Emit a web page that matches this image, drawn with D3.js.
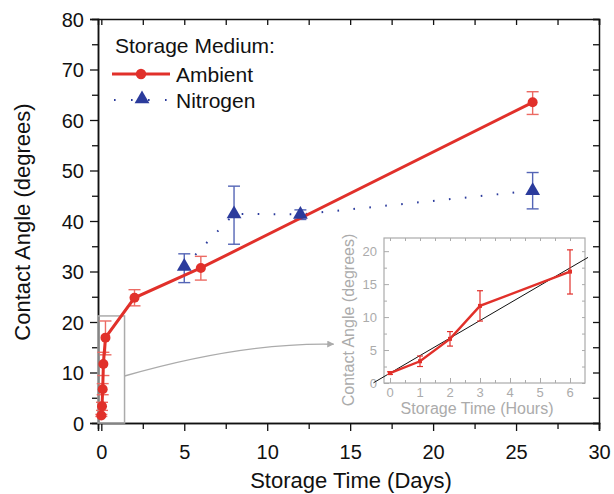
<!DOCTYPE html>
<html>
<head>
<meta charset="utf-8">
<script src="https://cdnjs.cloudflare.com/ajax/libs/d3/7.8.5/d3.min.js"></script>
<style>
  body { margin: 0; background: #fff; }
  text { font-family: "Liberation Sans", Arial, Helvetica, sans-serif; }
</style>
</head>
<body>
<svg id="chart" width="614" height="494"></svg>
<script>
// Ambient storage: time in days, mean contact angle, error bar low / high
const ambientDays  = [0, 1 / 24, 2 / 24, 3 / 24, 6 / 24, 2, 6, 26];
const ambientAngle = [1.5, 3.3, 6.7, 11.7, 16.9, 24.8, 30.7, 63.5];
const ambientLow   = [1.3, 2.5, 5.6, 9.4, 13.5, 23.2, 28.3, 61.1];
const ambientHigh  = [1.7, 4.1, 7.8, 14.0, 20.2, 26.4, 33.0, 65.6];

// Nitrogen storage
const nitrogenDays  = [5, 8, 12, 26];
const nitrogenAngle = [31.0, 41.4, 41.3, 46.0];
const nitrogenLow   = [27.8, 35.4, 40.3, 42.4];
const nitrogenHigh  = [33.5, 46.9, 42.2, 49.6];

// First six hours of ambient storage (inset)
const hoursTime  = [0, 1, 2, 3, 6];
const hoursAngle = [1.5, 3.3, 6.7, 11.7, 16.9];
const hoursLow   = [1.3, 2.5, 5.6, 9.4, 13.5];
const hoursHigh  = [1.7, 4.1, 7.8, 14.0, 20.2];

// Linear fit over the first hours
const fitIntercept = 1.5;
const fitSlope = 2.66;
const fitSpan = [-0.55, 6.6];

// Tick labels
const xTickValues = [0, 5, 10, 15, 20, 25, 30];
const yTickValues = [0, 10, 20, 30, 40, 50, 60, 70, 80];
const insetXTickValues = [0, 1, 2, 3, 4, 5, 6];
const insetYTickValues = [0, 5, 10, 15, 20];

// Zoom region (days, degrees) and the arrow pointing to the inset
const zoomBox = { x0: -0.2, x1: 1.4, y0: 0, y1: 21.2 };
const arrowFrom = [1.4, 9.3];
const arrowVia = [8.5, 16.0];
const arrowTo = [14.0, 15.6];

const RED = "#e1302a", RED_ERR = "#ec6a63";
const BLUE = "#2b3b9c", BLUE_ERR = "#5465b6";
const GREY = "#ababab";

const svg = d3.select("#chart");

const x = d3.scaleLinear().domain([-0.2, 30]).range([98, 599]);
const y = d3.scaleLinear().domain([0, 80]).range([423, 19]);

const ambient = ambientDays.map((d, i) => ({ x: d, y: ambientAngle[i], lo: ambientLow[i], hi: ambientHigh[i] }));
const nitrogen = nitrogenDays.map((d, i) => ({ x: d, y: nitrogenAngle[i], lo: nitrogenLow[i], hi: nitrogenHigh[i] }));
const hours = hoursTime.map((d, i) => ({ x: d, y: hoursAngle[i], lo: hoursLow[i], hi: hoursHigh[i] }));

// ---- axes of the main panel ----
function styleAxis(g) {
  g.select(".domain").attr("stroke", "#111").attr("stroke-width", 1.5);
  g.selectAll(".tick line").attr("stroke", "#111").attr("stroke-width", 1.3);
  g.selectAll(".tick text").attr("fill", "#111").style("font-size", "20px");
}
const half = (vals, step) => d3.range(vals[0] + step / 2, vals[vals.length - 1], step);

// minor ticks
svg.append("g").attr("transform", "translate(0,423)")
  .call(d3.axisBottom(x).tickValues(half(xTickValues, 5)).tickSize(6).tickFormat(""))
  .call(styleAxis);
svg.append("g").attr("transform", "translate(98,0)")
  .call(d3.axisLeft(y).tickValues(half(yTickValues, 10)).tickSize(6).tickFormat(""))
  .call(styleAxis);

svg.append("g").attr("transform", "translate(0,423)")
  .call(d3.axisBottom(x).tickValues(xTickValues).tickSize(8).tickPadding(14).tickFormat(d3.format("d")))
  .call(styleAxis);
svg.append("g").attr("transform", "translate(98,0)")
  .call(d3.axisLeft(y).tickValues(yTickValues).tickSize(8).tickPadding(6).tickFormat(d3.format("d")))
  .call(styleAxis)
  .selectAll(".tick text").attr("dy", "0.36em");

// top and right frame with inward ticks
svg.append("g").attr("transform", "translate(0,19)")
  .call(d3.axisBottom(x).tickValues(d3.range(0, 30.01, 2.5)).tickSize(6).tickFormat(""))
  .call(styleAxis);
svg.append("g").attr("transform", "translate(599,0)")
  .call(d3.axisLeft(y).tickValues(d3.range(0, 80.01, 5)).tickSize(6).tickFormat(""))
  .call(styleAxis);

// axis titles
svg.append("text").attr("x", 351).attr("y", 488).attr("text-anchor", "middle")
  .style("font-size", "22px").attr("fill", "#111").text("Storage Time (Days)");
svg.append("text").attr("transform", "translate(30,222) rotate(-90)").attr("text-anchor", "middle")
  .style("font-size", "22px").attr("fill", "#111").text("Contact Angle (degrees)");

// ---- zoom box and arrow ----
svg.append("rect")
  .attr("x", x(zoomBox.x0)).attr("y", y(zoomBox.y1))
  .attr("width", x(zoomBox.x1) - x(zoomBox.x0)).attr("height", y(zoomBox.y0) - y(zoomBox.y1))
  .attr("fill", "none").attr("stroke", GREY).attr("stroke-width", 1.5);

svg.append("defs").append("marker")
  .attr("id", "arrowhead").attr("viewBox", "0 0 10 10").attr("refX", 9).attr("refY", 5)
  .attr("markerWidth", 7).attr("markerHeight", 7).attr("markerUnits", "userSpaceOnUse").attr("orient", "auto")
  .append("path").attr("d", "M0,0 L10,5 L0,10 Z").attr("fill", GREY);

const ap = d3.path();
ap.moveTo(x(arrowFrom[0]), y(arrowFrom[1]));
ap.quadraticCurveTo(x(arrowVia[0]), y(arrowVia[1]), x(arrowTo[0]), y(arrowTo[1]));
svg.append("path").attr("d", ap.toString()).attr("fill", "none")
  .attr("stroke", GREY).attr("stroke-width", 1.4).attr("marker-end", "url(#arrowhead)");

// ---- main series ----
function errorBars(g, data, sx, sy, color, cap, width) {
  const eb = g.append("g").attr("stroke", color).attr("stroke-width", width).attr("fill", "none");
  data.forEach(d => {
    eb.append("line").attr("x1", sx(d.x)).attr("x2", sx(d.x)).attr("y1", sy(d.lo)).attr("y2", sy(d.hi));
    eb.append("line").attr("x1", sx(d.x) - cap).attr("x2", sx(d.x) + cap).attr("y1", sy(d.lo)).attr("y2", sy(d.lo));
    eb.append("line").attr("x1", sx(d.x) - cap).attr("x2", sx(d.x) + cap).attr("y1", sy(d.hi)).attr("y2", sy(d.hi));
  });
}

errorBars(svg, nitrogen, x, y, BLUE_ERR, 6, 1.4);
errorBars(svg, ambient, x, y, RED_ERR, 6, 1.4);

const line = d3.line().x(d => x(d.x)).y(d => y(d.y));

svg.append("path").datum(nitrogen).attr("d", line).attr("fill", "none")
  .attr("stroke", BLUE).attr("stroke-width", 2).attr("stroke-dasharray", "1.6,14.4");
svg.append("path").datum(ambient).attr("d", line).attr("fill", "none")
  .attr("stroke", RED).attr("stroke-width", 3);

const tri = d3.symbol().type(d3.symbolTriangle).size(95);
svg.append("g").selectAll("path").data(nitrogen).join("path")
  .attr("transform", d => `translate(${x(d.x)},${y(d.y)})`).attr("d", tri).attr("fill", BLUE);
svg.append("g").selectAll("circle").data(ambient).join("circle")
  .attr("cx", d => x(d.x)).attr("cy", d => y(d.y)).attr("r", 5).attr("fill", RED);

// ---- legend ----
const lg = svg.append("g");
lg.append("text").attr("x", 115).attr("y", 53).style("font-size", "21px").attr("fill", "#111").text("Storage Medium:");
lg.append("line").attr("x1", 112).attr("x2", 170).attr("y1", 74).attr("y2", 74).attr("stroke", RED).attr("stroke-width", 3);
lg.append("circle").attr("cx", 141).attr("cy", 74).attr("r", 5.2).attr("fill", RED);
lg.append("text").attr("x", 176).attr("y", 74).attr("dy", "0.36em").style("font-size", "21px").attr("fill", "#111").text("Ambient");
lg.append("line").attr("x1", 114).attr("x2", 170).attr("y1", 100).attr("y2", 100)
  .attr("stroke", BLUE).attr("stroke-width", 2).attr("stroke-dasharray", "1.6,15.4");
lg.append("path").attr("transform", "translate(142,99)").attr("d", tri).attr("fill", BLUE);
lg.append("text").attr("x", 176).attr("y", 100).attr("dy", "0.36em").style("font-size", "21px").attr("fill", "#111").text("Nitrogen");

// ---- inset: first hours ----
const ix = d3.scaleLinear().domain([-0.2, 6.5]).range([384, 585]);
const iy = d3.scaleLinear().domain([0, 22]).range([383, 238]);
const inset = svg.append("g");

inset.append("rect").attr("x", 384).attr("y", 238).attr("width", 201).attr("height", 145)
  .attr("fill", "#fff").attr("stroke", GREY).attr("stroke-width", 1.2);

function insetTicks(g) {
  g.select(".domain").remove();
  g.selectAll(".tick line").attr("stroke", GREY).attr("stroke-width", 1);
  g.selectAll(".tick text").attr("fill", GREY).style("font-size", "13px");
}
// inward ticks on all four sides
inset.append("g").attr("transform", "translate(0,383)")
  .call(d3.axisTop(ix).tickValues(d3.range(0.5, 6.5, 1)).tickSize(3).tickFormat("")).call(insetTicks);
inset.append("g").attr("transform", "translate(0,238)")
  .call(d3.axisBottom(ix).tickValues(d3.range(0, 6.01, 0.5)).tickSize(3).tickFormat("")).call(insetTicks);
inset.append("g").attr("transform", "translate(384,0)")
  .call(d3.axisRight(iy).tickValues(d3.range(2.5, 22, 5)).tickSize(3).tickFormat("")).call(insetTicks);
inset.append("g").attr("transform", "translate(585,0)")
  .call(d3.axisLeft(iy).tickValues(d3.range(0, 22, 2.5)).tickSize(3).tickFormat("")).call(insetTicks);
inset.append("g").attr("transform", "translate(0,383)")
  .call(d3.axisTop(ix).tickValues(insetXTickValues).tickSize(5).tickFormat("")).call(insetTicks);
inset.append("g").attr("transform", "translate(384,0)")
  .call(d3.axisRight(iy).tickValues(insetYTickValues).tickSize(5).tickFormat("")).call(insetTicks);

// inset tick labels
inset.selectAll(".ixl").data(insetXTickValues).join("text")
  .attr("x", d => ix(d)).attr("y", 397).attr("text-anchor", "middle")
  .style("font-size", "13px").attr("fill", GREY).text(d => d);
inset.selectAll(".iyl").data(insetYTickValues).join("text")
  .attr("x", 377).attr("y", d => iy(d)).attr("dy", "0.36em").attr("text-anchor", "end")
  .style("font-size", "13px").attr("fill", GREY).text(d => d);

inset.append("text").attr("x", 477).attr("y", 414).attr("text-anchor", "middle")
  .style("font-size", "16px").attr("fill", GREY).text("Storage Time (Hours)");
inset.append("text").attr("transform", "translate(354,320) rotate(-90)").attr("text-anchor", "middle")
  .style("font-size", "16px").attr("fill", GREY).text("Contact Angle (degrees)");

// fit line
inset.append("line")
  .attr("x1", ix(fitSpan[0])).attr("y1", iy(fitIntercept + fitSlope * fitSpan[0]))
  .attr("x2", ix(fitSpan[1])).attr("y2", iy(fitIntercept + fitSlope * fitSpan[1]))
  .attr("stroke", "#111").attr("stroke-width", 1);

const iline = d3.line().x(d => ix(d.x)).y(d => iy(d.y));
inset.append("path").datum(hours).attr("d", iline).attr("fill", "none")
  .attr("stroke", RED).attr("stroke-width", 2.4);
errorBars(inset, hours, ix, iy, RED, 3, 1.2);
inset.append("g").selectAll("rect").data(hours).join("rect")
  .attr("x", d => ix(d.x) - 2).attr("y", d => iy(d.y) - 2).attr("width", 4).attr("height", 4).attr("fill", RED);
</script>
</body>
</html>
